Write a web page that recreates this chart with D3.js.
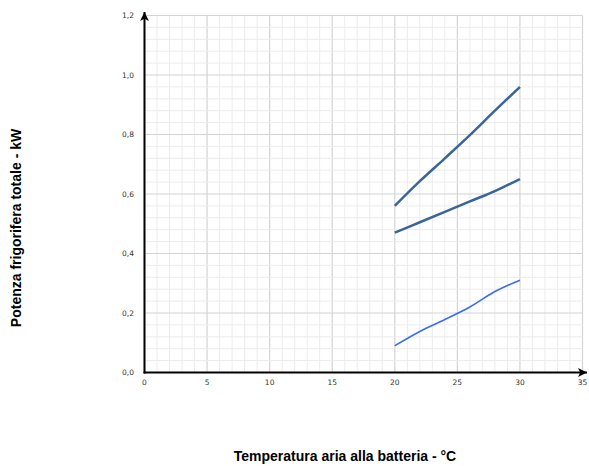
<!DOCTYPE html>
<html><head><meta charset="utf-8">
<script src="https://cdn.jsdelivr.net/npm/d3@7"></script>
<style>html,body{margin:0;padding:0;background:#fff;}svg{display:block;}</style>
</head><body>
<svg id="chart" width="589" height="466"></svg>
<script>
const temps = [20, 22, 24, 26, 28, 30];
const seriesTop = [0.56, 0.643, 0.72, 0.798, 0.88, 0.96];
const seriesMid = [0.47, 0.505, 0.54, 0.575, 0.61, 0.65];
const seriesLow = [0.09, 0.138, 0.178, 0.22, 0.272, 0.31];
const xTicks = [0, 5, 10, 15, 20, 25, 30, 35];
const yTicks = [0, 0.2, 0.4, 0.6, 0.8, 1.0, 1.2];
const xTitle = "Temperatura aria alla batteria - °C";
const yTitle = "Potenza frigorifera totale - kW";

const svg = d3.select("#chart");
const x = d3.scaleLinear().domain([0, 35]).range([144.5, 582.5]);
const y = d3.scaleLinear().domain([0, 1.2]).range([372.5, 15.5]);

const grid = svg.append("g");
d3.range(0, 36, 1).forEach(v => {
  grid.append("line").attr("x1", x(v)).attr("x2", x(v)).attr("y1", y(0)).attr("y2", y(1.2))
    .attr("stroke", v % 5 === 0 ? "#d4d4d4" : "#ececec").attr("stroke-width", v % 5 === 0 ? 1.2 : 1);
});
d3.range(0, 31, 1).forEach(i => {
  const v = i * 0.04;
  const major = i % 5 === 0;
  grid.append("line").attr("x1", x(0)).attr("x2", x(35)).attr("y1", y(v)).attr("y2", y(v))
    .attr("stroke", major ? "#d4d4d4" : "#ececec").attr("stroke-width", major ? 1.2 : 1);
});

const line = d3.line().x((d, i) => x(temps[i])).y(d => y(d)).curve(d3.curveMonotoneX);
svg.append("path").datum(seriesTop).attr("d", line).attr("fill", "none").attr("stroke", "#3a6598").attr("stroke-width", 2.5);
svg.append("path").datum(seriesMid).attr("d", line).attr("fill", "none").attr("stroke", "#3a6598").attr("stroke-width", 2.5);
svg.append("path").datum(seriesLow).attr("d", line).attr("fill", "none").attr("stroke", "#3a6cf2").attr("stroke-width", 1.6);

svg.append("defs").append("marker").attr("id", "arr").attr("viewBox", "0 0 10 10")
  .attr("refX", 10).attr("refY", 5).attr("markerWidth", 4.5).attr("markerHeight", 4.5)
  .attr("markerUnits", "strokeWidth").attr("orient", "auto")
  .append("path").attr("d", "M0,0 L10,5 L0,10 L2.5,5 Z").attr("fill", "#000");
svg.append("line").attr("x1", x(0)).attr("x2", x(0)).attr("y1", y(0) + 1).attr("y2", 12)
  .attr("stroke", "#000").attr("stroke-width", 2).attr("marker-end", "url(#arr)");
svg.append("line").attr("x1", x(0) - 1).attr("x2", 587).attr("y1", y(0)).attr("y2", y(0))
  .attr("stroke", "#000").attr("stroke-width", 2).attr("marker-end", "url(#arr)");

const fmt = v => v.toFixed(1).replace(".", ",");
svg.append("g").selectAll("text").data(yTicks).join("text")
  .attr("x", 134).attr("y", d => y(d)).attr("dy", "0.35em").attr("text-anchor", "end")
  .attr("font-family", "DejaVu Sans, Verdana, sans-serif").attr("font-size", 7.5).attr("fill", "#333")
  .text(fmt);
svg.append("g").selectAll("text").data(xTicks).join("text")
  .attr("x", d => x(d)).attr("y", 385).attr("text-anchor", "middle")
  .attr("font-family", "DejaVu Sans, Verdana, sans-serif").attr("font-size", 7.5).attr("fill", "#333")
  .text(d => d);

svg.append("text").attr("x", 345).attr("y", 461).attr("text-anchor", "middle")
  .attr("font-family", "Liberation Sans, Arial, sans-serif").attr("font-weight", "bold").attr("font-size", 14)
  .attr("fill", "#000").text(xTitle);
svg.append("text").attr("transform", "translate(21,228) rotate(-90)").attr("text-anchor", "middle")
  .attr("font-family", "Liberation Sans, Arial, sans-serif").attr("font-weight", "bold").attr("font-size", 14)
  .attr("fill", "#000").text(yTitle);
</script>
</body></html>
